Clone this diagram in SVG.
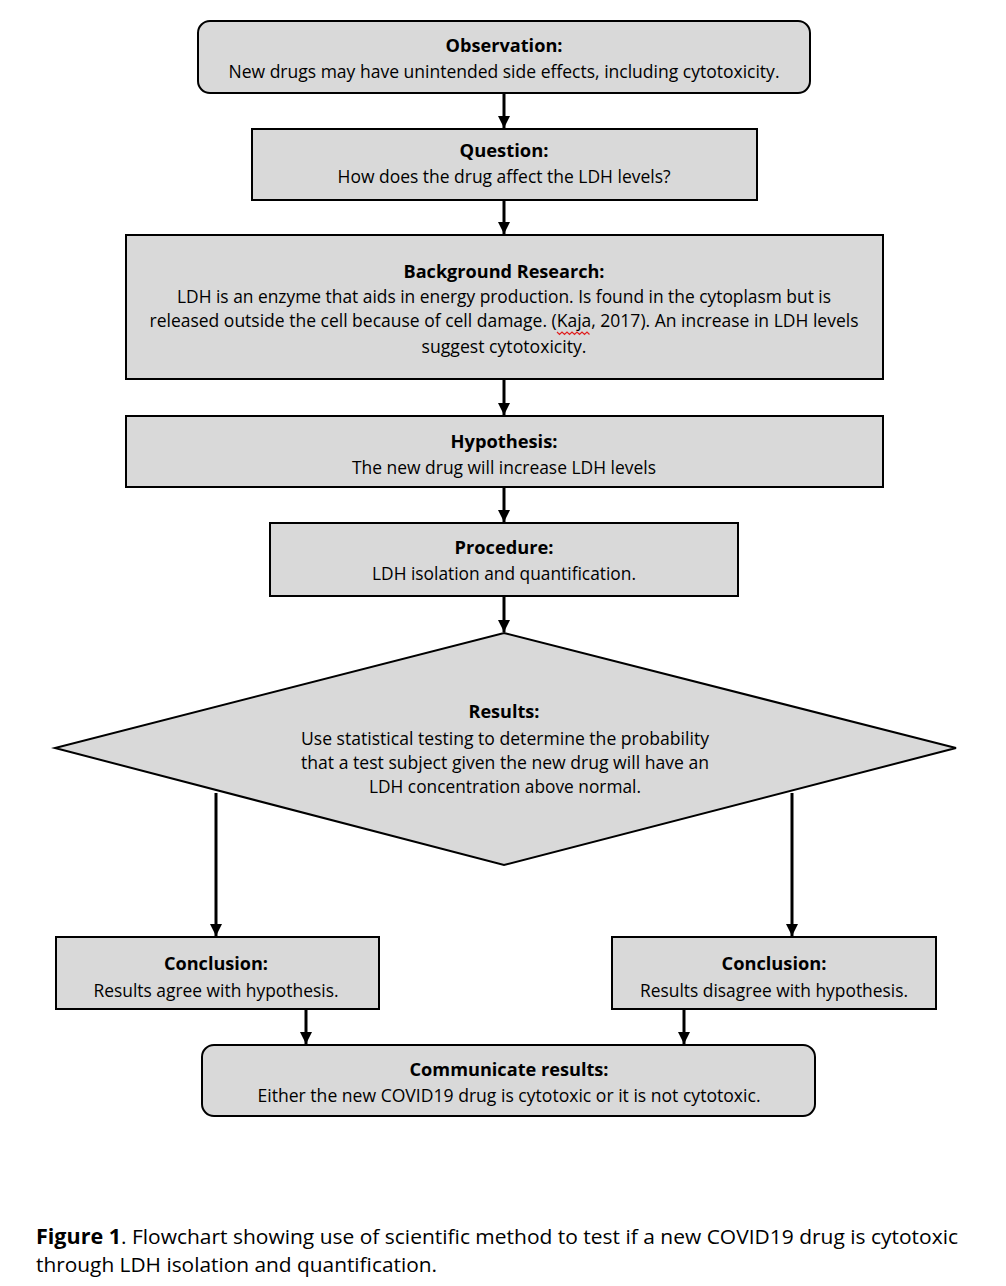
<svg xmlns="http://www.w3.org/2000/svg" width="1006" height="1286" viewBox="0 0 1006 1286">
<defs>
<marker id="ah" markerWidth="4" markerHeight="4" refX="4" refY="2" orient="auto" markerUnits="strokeWidth">
<path d="M0,0 L4,2 L0,4 Z" fill="#000"/>
</marker>
<style>
.box{fill:#d9d9d9;stroke:#000;stroke-width:2}
.t{font-family:"Open Sans","Noto Sans",sans-serif;font-size:17.5px;fill:#000;text-anchor:middle}
.b{font-weight:bold}
.cap{font-family:"Open Sans","Noto Sans",sans-serif;font-size:20.5px;fill:#000}
.c{stroke:#000;stroke-width:3;fill:none;marker-end:url(#ah)}
</style>
</defs>
<rect width="1006" height="1286" fill="#fff"/>
<g id="observation">
<rect class="box" x="198" y="21" width="612" height="72" rx="12"/>
<text class="t b" x="504" y="52" textLength="117" lengthAdjust="spacingAndGlyphs">Observation:</text>
<text class="t" x="504" y="78" textLength="551" lengthAdjust="spacingAndGlyphs">New drugs may have unintended side effects, including cytotoxicity.</text>
</g>
<g id="question">
<rect class="box" x="252" y="129" width="505" height="71"/>
<text class="t b" x="504" y="157" textLength="89" lengthAdjust="spacingAndGlyphs">Question:</text>
<text class="t" x="504" y="183" textLength="333" lengthAdjust="spacingAndGlyphs">How does the drug affect the LDH levels?</text>
</g>
<g id="background">
<rect class="box" x="126" y="235" width="757" height="144"/>
<text class="t b" x="504" y="278" textLength="201" lengthAdjust="spacingAndGlyphs">Background Research:</text>
<text class="t" x="504" y="303" textLength="654" lengthAdjust="spacingAndGlyphs">LDH is an enzyme that aids in energy production. Is found in the cytoplasm but is</text>
<text class="t" x="504" y="327" textLength="709" lengthAdjust="spacingAndGlyphs">released outside the cell because of cell damage. (Kaja, 2017). An increase in LDH levels</text>
<text class="t" x="504" y="353" textLength="165" lengthAdjust="spacingAndGlyphs">suggest cytotoxicity.</text>
<path d="M557,332 l2.5,2.5 l2.5,-2.5 l2.5,2.5 l2.5,-2.5 l2.5,2.5 l2.5,-2.5 l2.5,2.5 l2.5,-2.5 l2.5,2.5 l2.5,-2.5 l2.5,2.5 l2.5,-2.5 l2.5,2.5" fill="none" stroke="#e02020" stroke-width="1.2"/>
</g>
<g id="hypothesis">
<rect class="box" x="126" y="416" width="757" height="71"/>
<text class="t b" x="504" y="448" textLength="107" lengthAdjust="spacingAndGlyphs">Hypothesis:</text>
<text class="t" x="504" y="474" textLength="304" lengthAdjust="spacingAndGlyphs">The new drug will increase LDH levels</text>
</g>
<g id="procedure">
<rect class="box" x="270" y="523" width="468" height="73"/>
<text class="t b" x="504" y="554" textLength="99" lengthAdjust="spacingAndGlyphs">Procedure:</text>
<text class="t" x="504" y="580" textLength="264" lengthAdjust="spacingAndGlyphs">LDH isolation and quantification.</text>
</g>
<g id="results">
<polygon class="box" points="504,633 956,748 504,865 55,748"/>
<text class="t b" x="504" y="718" textLength="71" lengthAdjust="spacingAndGlyphs">Results:</text>
<text class="t" x="505" y="745" textLength="408" lengthAdjust="spacingAndGlyphs">Use statistical testing to determine the probability</text>
<text class="t" x="505" y="769" textLength="408" lengthAdjust="spacingAndGlyphs">that a test subject given the new drug will have an</text>
<text class="t" x="505" y="793" textLength="272" lengthAdjust="spacingAndGlyphs">LDH concentration above normal.</text>
</g>
<g id="conclusion-agree">
<rect class="box" x="56" y="937" width="323" height="72"/>
<text class="t b" x="216" y="970" textLength="104" lengthAdjust="spacingAndGlyphs">Conclusion:</text>
<text class="t" x="216" y="997" textLength="245" lengthAdjust="spacingAndGlyphs">Results agree with hypothesis.</text>
</g>
<g id="conclusion-disagree">
<rect class="box" x="612" y="937" width="324" height="72"/>
<text class="t b" x="774" y="970" textLength="105" lengthAdjust="spacingAndGlyphs">Conclusion:</text>
<text class="t" x="774" y="997" textLength="268" lengthAdjust="spacingAndGlyphs">Results disagree with hypothesis.</text>
</g>
<g id="communicate">
<rect class="box" x="202" y="1045" width="613" height="71" rx="12"/>
<text class="t b" x="509" y="1076" textLength="199" lengthAdjust="spacingAndGlyphs">Communicate results:</text>
<text class="t" x="509" y="1102" textLength="503" lengthAdjust="spacingAndGlyphs">Either the new COVID19 drug is cytotoxic or it is not cytotoxic.</text>
</g>
<g id="connectors">
<line class="c" x1="504" y1="93" x2="504" y2="128"/>
<line class="c" x1="504" y1="200" x2="504" y2="234"/>
<line class="c" x1="504" y1="379" x2="504" y2="415"/>
<line class="c" x1="504" y1="487" x2="504" y2="522"/>
<line class="c" x1="504" y1="596" x2="504" y2="632"/>
<line class="c" x1="216" y1="793" x2="216" y2="936"/>
<line class="c" x1="792" y1="793" x2="792" y2="936"/>
<line class="c" x1="306" y1="1009" x2="306" y2="1044"/>
<line class="c" x1="684" y1="1009" x2="684" y2="1044"/>
</g>
<g id="caption">
<text class="cap" x="36" y="1244" font-weight="bold" textLength="85" lengthAdjust="spacingAndGlyphs">Figure 1</text>
<text class="cap" x="121" y="1244" textLength="837" lengthAdjust="spacingAndGlyphs">. Flowchart showing use of scientific method to test if a new COVID19 drug is cytotoxic</text>
<text class="cap" x="36" y="1272" textLength="401" lengthAdjust="spacingAndGlyphs">through LDH isolation and quantification.</text>
</g>
</svg>
